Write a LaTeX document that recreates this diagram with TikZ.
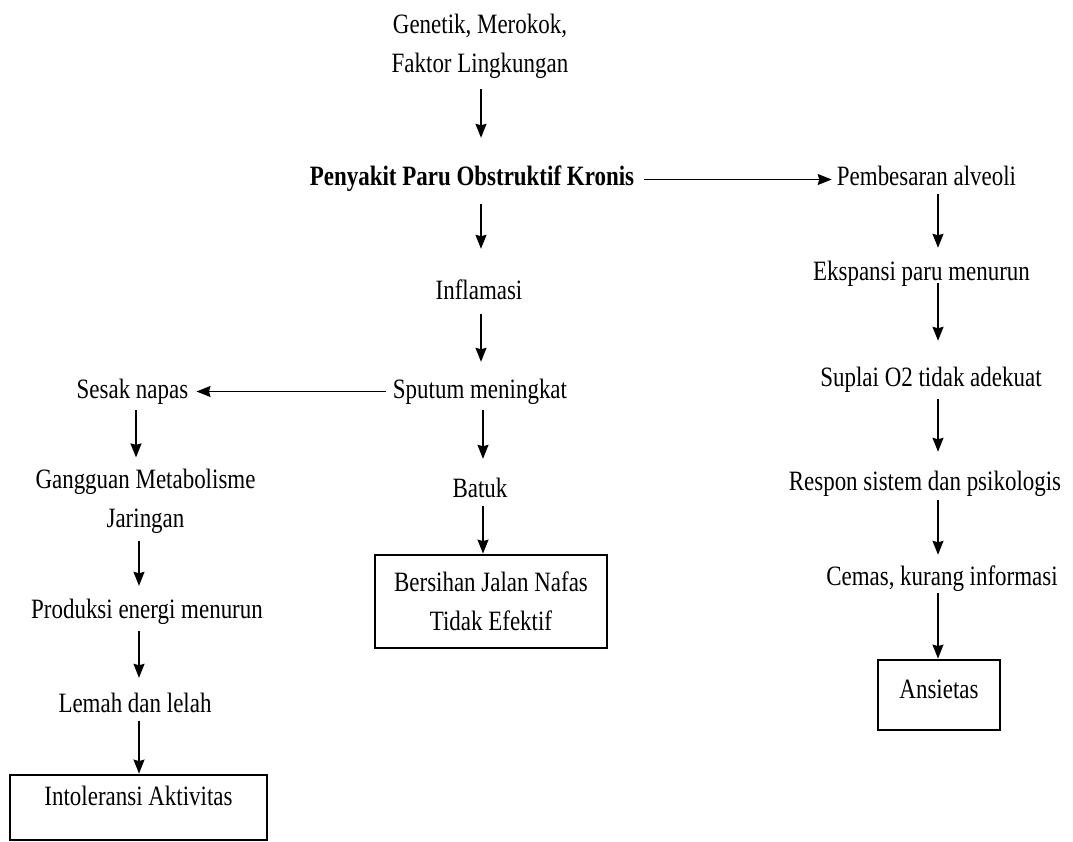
\documentclass[tikz,border=0pt]{standalone}
\usepackage{fontspec}
\setmainfont{Liberation Serif}[FakeStretch=0.82]
\usetikzlibrary{arrows.meta}
\begin{document}
\begin{tikzpicture}[x=1pt,y=1pt,
  lbl/.style={inner sep=0pt, font=\fontsize{28}{39}\selectfont, text height=19pt, text depth=6pt, anchor=base},
  mlbl/.style={inner sep=0pt, font=\fontsize{28}{39}\selectfont, align=center, anchor=north},
  boxnode/.style={draw, line width=2.8pt, inner sep=0pt, font=\fontsize{28}{39}\selectfont, align=center},
  arr/.style={line width=1.5pt, -{Stealth[length=14pt,width=11pt,inset=1.5pt]}}]
\useasboundingbox[fill=white] (0,0) rectangle (1073,-842);

% column coordinates for vertical connectors
\coordinate (cM1) at (481,0);
\coordinate (cM2) at (483,0);
\coordinate (cL1) at (136,0);
\coordinate (cL2) at (139,0);
\coordinate (cR) at (938,0);

% nodes
\node[mlbl] (genetik) at (480,-14) {Genetik, Merokok,\\Faktor Lingkungan};
\node[lbl, font=\fontsize{28}{39}\selectfont\bfseries] (ppok) at (472,-186) {Penyakit Paru Obstruktif Kronis};
\node[lbl] (pemb) at (926.5,-186) {Pembesaran alveoli};
\node[lbl] (inflamasi) at (479,-299) {Inflamasi};
\node[lbl] (ekspansi) at (921.5,-280) {Ekspansi paru menurun};
\node[lbl] (sputum) at (480,-398) {Sputum meningkat};
\node[lbl] (sesak) at (132.5,-398) {Sesak napas};
\node[lbl] (suplai) at (931,-386) {Suplai O2 tidak adekuat};
\node[lbl] (batuk) at (480,-497) {Batuk};
\node[lbl] (respon) at (925,-490) {Respon sistem dan psikologis};
\node[mlbl] (gangguan) at (145.5,-469) {Gangguan Metabolisme\\Jaringan};
\node[lbl] (cemas) at (942,-585) {Cemas, kurang informasi};
\node[boxnode, minimum width=232pt, minimum height=93pt] (bersihan) at (491,-601.5) {Bersihan Jalan Nafas\\Tidak Efektif};
\node[lbl] (produksi) at (147,-618) {Produksi energi menurun};
\node[boxnode, minimum width=122pt, minimum height=70pt, text height=19pt, text depth=13pt] (ansietas) at (939,-695) {Ansietas};
\node[lbl] (lemah) at (135,-712) {Lemah dan lelah};
\node[boxnode, minimum width=257pt, minimum height=65pt, text height=19pt, text depth=24pt] (intol) at (138.5,-807.5) {Intoleransi Aktivitas};

% connectors - middle column
\draw[arr, shorten <=10pt, shorten >=29pt] (genetik.south -| cM1) -- (ppok.north -| cM1);
\draw[arr, shorten <=12pt, shorten >=31pt] (ppok.south -| cM1) -- (inflamasi.north -| cM1);
\draw[arr, shorten <=9pt, shorten >=17pt] (inflamasi.south -| cM1) -- (sputum.north -| cM1);
\draw[arr, shorten <=6pt, shorten >=19pt] (sputum.south -| cM2) -- (batuk.north -| cM2);
\draw[arr, shorten <=3pt] (batuk.south -| cM2) -- (bersihan.north -| cM2);

% horizontal connectors
\draw[arr, shorten <=10pt, shorten >=5pt] (ppok.east) -- (pemb.west);
\draw[arr, shorten <=7pt, shorten >=8pt] (sputum.west) -- (sesak.east);

% left column
\draw[arr, shorten <=6pt, shorten >=11.6pt] (sesak.south -| cL1) -- (gangguan.north -| cL1);
\draw[arr, shorten <=7pt, shorten >=13pt] (gangguan.south -| cL2) -- (produksi.north -| cL2);
\draw[arr, shorten <=7pt, shorten >=15pt] (produksi.south -| cL2) -- (lemah.north -| cL2);
\draw[arr, shorten <=3pt] (lemah.south -| cL2) -- (intol.north -| cL2);

% right column
\draw[arr, shorten <=2pt, shorten >=13pt] (pemb.south -| cR) -- (ekspansi.north -| cR);
\draw[arr, shorten <=-3pt, shorten >=26pt] (ekspansi.south -| cR) -- (suplai.north -| cR);
\draw[arr, shorten <=7pt, shorten >=19pt] (suplai.south -| cR) -- (respon.north -| cR);
\draw[arr, shorten <=4pt, shorten >=11pt] (respon.south -| cR) -- (cemas.north -| cR);
\draw[arr, shorten <=2pt] (cemas.south -| cR) -- (ansietas.north -| cR);
\end{tikzpicture}
\end{document}
